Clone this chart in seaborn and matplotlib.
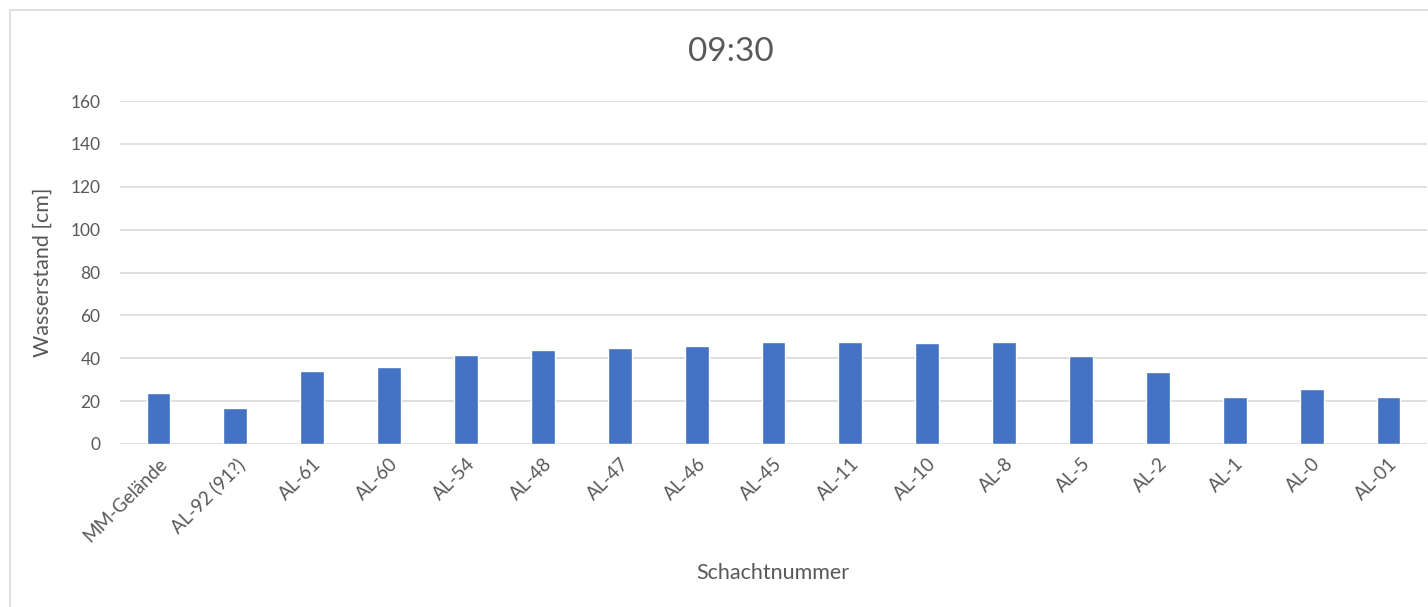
import matplotlib
matplotlib.use("Agg")
import matplotlib.pyplot as plt
import seaborn as sns
import pandas as pd
from matplotlib.patches import Rectangle

categories = ["MM-Gelände", "AL-92 (91?)", "AL-61", "AL-60", "AL-54", "AL-48", "AL-47",
              "AL-46", "AL-45", "AL-11", "AL-10", "AL-8", "AL-5", "AL-2", "AL-1", "AL-0", "AL-01"]
values = [24.0, 16.6, 34.2, 36.1, 41.5, 44.0, 44.6, 45.9, 47.6, 47.6, 47.1, 47.6, 40.9, 33.6, 21.9, 25.7, 21.9]
yticks = [0, 20, 40, 60, 80, 100, 120, 140, 160]

df = pd.DataFrame({"Schacht": categories, "Wasserstand": values})

sns.set_theme(style="white")
plt.rcParams['font.family'] = ['Lato', 'DejaVu Sans']

text_color = "#595959"
grid_color = "#d9d9d9"

fig = plt.figure(figsize=(14.28, 6.07), dpi=100)
ax = fig.add_axes([120/1428, 1-444/607, (1427-120)/1428, (444-101)/607])

sns.barplot(data=df, x="Schacht", y="Wasserstand", color="#4472C4", width=0.31,
            saturation=1, ax=ax, zorder=3)

ax.set_ylim(0, 160)
ax.set_xlim(-0.5, len(categories) - 0.5)
ax.set_yticks(yticks)
ax.set_yticklabels([str(t) for t in yticks], color=text_color, fontsize=12.5)
ax.yaxis.grid(True, color=grid_color, linewidth=1.2, zorder=0)
ax.set_axisbelow(True)
for s in ax.spines.values():
    s.set_visible(False)
ax.tick_params(axis="both", length=0)
ax.tick_params(axis="y", pad=14)
ax.tick_params(axis="x", pad=8)
ax.set_xticks(range(len(categories)))
ax.set_xticklabels(categories, rotation=45, ha="right", rotation_mode="anchor",
                   color=text_color, fontsize=13.5)

ax.set_xlabel("Schachtnummer", color=text_color, fontsize=15.5)
ax.set_ylabel("Wasserstand [cm]", color=text_color, fontsize=15.5)
ax.xaxis.set_label_coords((773-120)/1307, -(563-444)/343)
ax.yaxis.set_label_coords(-(120-53)/1307, 0.5)

fig.text(731/1428, 1-52/607, "09:30", ha="center", va="center", fontsize=24, color=text_color)

fig.patches.append(Rectangle((10/1428, -0.1), 1.2, 1-10/607+0.1, transform=fig.transFigure,
                             fill=False, edgecolor=grid_color, linewidth=1.2))

fig.savefig("out.png", dpi=100)
